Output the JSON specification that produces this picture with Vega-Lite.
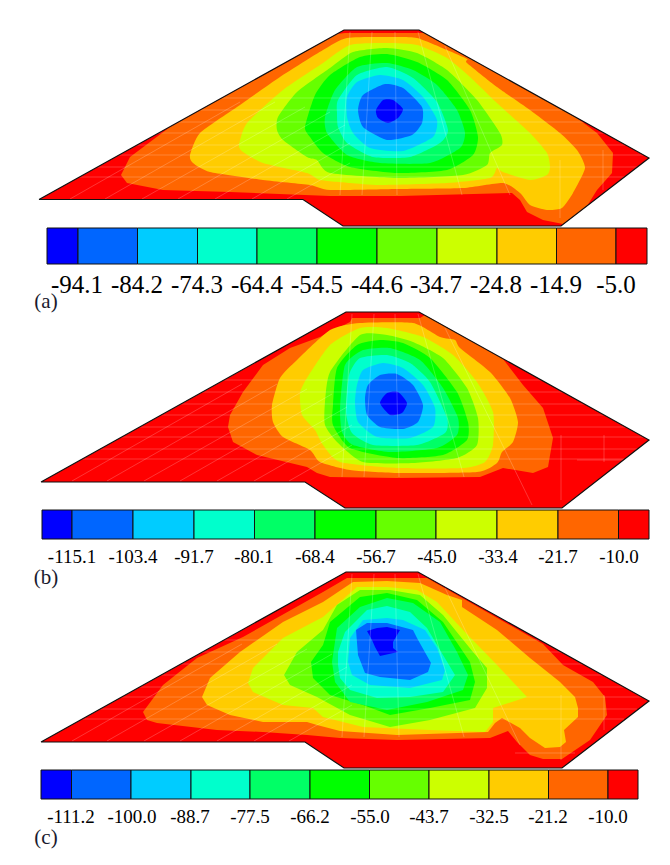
{
"$schema":"https://vega.github.io/schema/vega-lite/v6.json",
"width":670,"height":865,"padding":0,"autosize":"none","background":"white",
"config":{"view":{"stroke":null}},
"datasets":{
"bands":[
{"s":"a11","band":11,"x":39,"y":199.5},{"s":"a11","band":11,"x":344,"y":30},{"s":"a11","band":11,"x":419,"y":30},{"s":"a11","band":11,"x":649,"y":158},{"s":"a11","band":11,"x":561,"y":226},{"s":"a11","band":11,"x":343,"y":226},{"s":"a11","band":11,"x":303,"y":199.5},
{"s":"a10","band":10,"x":121,"y":175},{"s":"a10","band":10,"x":130,"y":157},{"s":"a10","band":10,"x":170,"y":127},{"s":"a10","band":10,"x":337,"y":34},{"s":"a10","band":10,"x":345,"y":33},{"s":"a10","band":10,"x":424,"y":33},{"s":"a10","band":10,"x":577,"y":118},{"s":"a10","band":10,"x":597,"y":133},{"s":"a10","band":10,"x":613,"y":153},{"s":"a10","band":10,"x":612,"y":173},{"s":"a10","band":10,"x":597,"y":190},{"s":"a10","band":10,"x":587,"y":206},{"s":"a10","band":10,"x":563,"y":224},{"s":"a10","band":10,"x":543,"y":220},{"s":"a10","band":10,"x":527,"y":212},{"s":"a10","band":10,"x":520,"y":200},{"s":"a10","band":10,"x":512,"y":193},{"s":"a10","band":10,"x":400,"y":196},{"s":"a10","band":10,"x":330,"y":196},{"s":"a10","band":10,"x":230,"y":192},{"s":"a10","band":10,"x":163,"y":190},{"s":"a10","band":10,"x":127,"y":183},
{"s":"a9","band":9,"x":190,"y":155},{"s":"a9","band":9,"x":193,"y":163},{"s":"a9","band":9,"x":210,"y":172},{"s":"a9","band":9,"x":263,"y":180},{"s":"a9","band":9,"x":310,"y":185},{"s":"a9","band":9,"x":330,"y":190},{"s":"a9","band":9,"x":397,"y":189},{"s":"a9","band":9,"x":463,"y":188},{"s":"a9","band":9,"x":503,"y":183},{"s":"a9","band":9,"x":520,"y":193},{"s":"a9","band":9,"x":530,"y":205},{"s":"a9","band":9,"x":547,"y":210},{"s":"a9","band":9,"x":562,"y":208},{"s":"a9","band":9,"x":573,"y":193},{"s":"a9","band":9,"x":585,"y":168},{"s":"a9","band":9,"x":577,"y":150},{"s":"a9","band":9,"x":560,"y":133},{"s":"a9","band":9,"x":530,"y":110},{"s":"a9","band":9,"x":497,"y":87},{"s":"a9","band":9,"x":467,"y":63},{"s":"a9","band":9,"x":467,"y":59},{"s":"a9","band":9,"x":447,"y":50},{"s":"a9","band":9,"x":417,"y":38},{"s":"a9","band":9,"x":390,"y":37},{"s":"a9","band":9,"x":347,"y":38},{"s":"a9","band":9,"x":323,"y":50},{"s":"a9","band":9,"x":280,"y":77},{"s":"a9","band":9,"x":237,"y":107},{"s":"a9","band":9,"x":200,"y":133},
{"s":"a8","band":8,"x":239,"y":145},{"s":"a8","band":8,"x":243,"y":152},{"s":"a8","band":8,"x":263,"y":163},{"s":"a8","band":8,"x":307,"y":173},{"s":"a8","band":8,"x":320,"y":180},{"s":"a8","band":8,"x":350,"y":183},{"s":"a8","band":8,"x":380,"y":185},{"s":"a8","band":8,"x":447,"y":183},{"s":"a8","band":8,"x":490,"y":178},{"s":"a8","band":8,"x":497,"y":168},{"s":"a8","band":8,"x":503,"y":172},{"s":"a8","band":8,"x":530,"y":180},{"s":"a8","band":8,"x":547,"y":175},{"s":"a8","band":8,"x":550,"y":167},{"s":"a8","band":8,"x":547,"y":153},{"s":"a8","band":8,"x":530,"y":133},{"s":"a8","band":8,"x":497,"y":103},{"s":"a8","band":8,"x":470,"y":77},{"s":"a8","band":8,"x":447,"y":58},{"s":"a8","band":8,"x":417,"y":45},{"s":"a8","band":8,"x":387,"y":43},{"s":"a8","band":8,"x":350,"y":45},{"s":"a8","band":8,"x":323,"y":63},{"s":"a8","band":8,"x":283,"y":90},{"s":"a8","band":8,"x":247,"y":123},
{"s":"a7","band":7,"x":277,"y":130},{"s":"a7","band":7,"x":283,"y":140},{"s":"a7","band":7,"x":307,"y":157},{"s":"a7","band":7,"x":317,"y":160},{"s":"a7","band":7,"x":330,"y":173},{"s":"a7","band":7,"x":397,"y":178},{"s":"a7","band":7,"x":463,"y":175},{"s":"a7","band":7,"x":487,"y":165},{"s":"a7","band":7,"x":490,"y":153},{"s":"a7","band":7,"x":502,"y":145},{"s":"a7","band":7,"x":500,"y":133},{"s":"a7","band":7,"x":477,"y":100},{"s":"a7","band":7,"x":447,"y":70},{"s":"a7","band":7,"x":417,"y":53},{"s":"a7","band":7,"x":387,"y":48},{"s":"a7","band":7,"x":353,"y":52},{"s":"a7","band":7,"x":330,"y":68},{"s":"a7","band":7,"x":297,"y":92},{"s":"a7","band":7,"x":278,"y":117},
{"s":"a6","band":6,"x":305,"y":127},{"s":"a6","band":6,"x":310,"y":137},{"s":"a6","band":6,"x":323,"y":153},{"s":"a6","band":6,"x":350,"y":167},{"s":"a6","band":6,"x":397,"y":173},{"s":"a6","band":6,"x":447,"y":170},{"s":"a6","band":6,"x":473,"y":155},{"s":"a6","band":6,"x":478,"y":137},{"s":"a6","band":6,"x":470,"y":110},{"s":"a6","band":6,"x":447,"y":80},{"s":"a6","band":6,"x":417,"y":62},{"s":"a6","band":6,"x":387,"y":54},{"s":"a6","band":6,"x":360,"y":57},{"s":"a6","band":6,"x":330,"y":75},{"s":"a6","band":6,"x":315,"y":95},
{"s":"a5","band":5,"x":325,"y":117},{"s":"a5","band":5,"x":327,"y":133},{"s":"a5","band":5,"x":347,"y":155},{"s":"a5","band":5,"x":380,"y":163},{"s":"a5","band":5,"x":430,"y":163},{"s":"a5","band":5,"x":460,"y":148},{"s":"a5","band":5,"x":465,"y":133},{"s":"a5","band":5,"x":457,"y":110},{"s":"a5","band":5,"x":437,"y":85},{"s":"a5","band":5,"x":413,"y":70},{"s":"a5","band":5,"x":387,"y":63},{"s":"a5","band":5,"x":357,"y":67},{"s":"a5","band":5,"x":335,"y":90},
{"s":"a4","band":4,"x":337,"y":113},{"s":"a4","band":4,"x":338,"y":127},{"s":"a4","band":4,"x":347,"y":143},{"s":"a4","band":4,"x":373,"y":157},{"s":"a4","band":4,"x":410,"y":157},{"s":"a4","band":4,"x":440,"y":143},{"s":"a4","band":4,"x":448,"y":130},{"s":"a4","band":4,"x":437,"y":102},{"s":"a4","band":4,"x":413,"y":78},{"s":"a4","band":4,"x":387,"y":67},{"s":"a4","band":4,"x":357,"y":75},{"s":"a4","band":4,"x":338,"y":100},
{"s":"a3","band":3,"x":347,"y":117},{"s":"a3","band":3,"x":353,"y":133},{"s":"a3","band":3,"x":370,"y":148},{"s":"a3","band":3,"x":403,"y":151},{"s":"a3","band":3,"x":433,"y":137},{"s":"a3","band":3,"x":437,"y":120},{"s":"a3","band":3,"x":423,"y":97},{"s":"a3","band":3,"x":403,"y":80},{"s":"a3","band":3,"x":380,"y":75},{"s":"a3","band":3,"x":357,"y":82},{"s":"a3","band":3,"x":347,"y":97},
{"s":"a2","band":2,"x":358,"y":110},{"s":"a2","band":2,"x":363,"y":127},{"s":"a2","band":2,"x":387,"y":140},{"s":"a2","band":2,"x":412,"y":135},{"s":"a2","band":2,"x":422,"y":123},{"s":"a2","band":2,"x":422,"y":107},{"s":"a2","band":2,"x":403,"y":88},{"s":"a2","band":2,"x":385,"y":84},{"s":"a2","band":2,"x":363,"y":95},
{"s":"a1","band":1,"x":376,"y":110},{"s":"a1","band":1,"x":383,"y":100},{"s":"a1","band":1,"x":393,"y":100},{"s":"a1","band":1,"x":403,"y":109},{"s":"a1","band":1,"x":398,"y":118},{"s":"a1","band":1,"x":388,"y":123},{"s":"a1","band":1,"x":378,"y":118},

{"s":"b11","band":11,"x":41,"y":482},{"s":"b11","band":11,"x":346,"y":312},{"s":"b11","band":11,"x":419,"y":312},{"s":"b11","band":11,"x":649,"y":440},{"s":"b11","band":11,"x":562,"y":508},{"s":"b11","band":11,"x":345,"y":508},{"s":"b11","band":11,"x":305,"y":482},
{"s":"b10","band":10,"x":228,"y":427},{"s":"b10","band":10,"x":230,"y":415},{"s":"b10","band":10,"x":243,"y":392},{"s":"b10","band":10,"x":263,"y":365},{"s":"b10","band":10,"x":290,"y":348},{"s":"b10","band":10,"x":320,"y":337},{"s":"b10","band":10,"x":350,"y":322},{"s":"b10","band":10,"x":352,"y":318},{"s":"b10","band":10,"x":420,"y":318},{"s":"b10","band":10,"x":425,"y":315},{"s":"b10","band":10,"x":503,"y":359},{"s":"b10","band":10,"x":523,"y":385},{"s":"b10","band":10,"x":543,"y":408},{"s":"b10","band":10,"x":553,"y":438},{"s":"b10","band":10,"x":548,"y":467},{"s":"b10","band":10,"x":533,"y":473},{"s":"b10","band":10,"x":503,"y":468},{"s":"b10","band":10,"x":480,"y":477},{"s":"b10","band":10,"x":397,"y":478},{"s":"b10","band":10,"x":330,"y":477},{"s":"b10","band":10,"x":317,"y":473},{"s":"b10","band":10,"x":307,"y":467},{"s":"b10","band":10,"x":257,"y":455},{"s":"b10","band":10,"x":233,"y":442},
{"s":"b9","band":9,"x":272,"y":405},{"s":"b9","band":9,"x":273,"y":422},{"s":"b9","band":9,"x":283,"y":437},{"s":"b9","band":9,"x":310,"y":450},{"s":"b9","band":9,"x":320,"y":462},{"s":"b9","band":9,"x":350,"y":470},{"s":"b9","band":9,"x":397,"y":473},{"s":"b9","band":9,"x":477,"y":472},{"s":"b9","band":9,"x":497,"y":463},{"s":"b9","band":9,"x":502,"y":452},{"s":"b9","band":9,"x":513,"y":442},{"s":"b9","band":9,"x":518,"y":422},{"s":"b9","band":9,"x":510,"y":398},{"s":"b9","band":9,"x":490,"y":372},{"s":"b9","band":9,"x":460,"y":348},{"s":"b9","band":9,"x":455,"y":340},{"s":"b9","band":9,"x":440,"y":337},{"s":"b9","band":9,"x":413,"y":323},{"s":"b9","band":9,"x":360,"y":323},{"s":"b9","band":9,"x":330,"y":330},{"s":"b9","band":9,"x":297,"y":360},{"s":"b9","band":9,"x":280,"y":378},
{"s":"b8","band":8,"x":300,"y":393},{"s":"b8","band":8,"x":302,"y":415},{"s":"b8","band":8,"x":315,"y":430},{"s":"b8","band":8,"x":323,"y":445},{"s":"b8","band":8,"x":340,"y":462},{"s":"b8","band":8,"x":397,"y":468},{"s":"b8","band":8,"x":463,"y":468},{"s":"b8","band":8,"x":485,"y":462},{"s":"b8","band":8,"x":493,"y":445},{"s":"b8","band":8,"x":493,"y":412},{"s":"b8","band":8,"x":477,"y":382},{"s":"b8","band":8,"x":453,"y":355},{"s":"b8","band":8,"x":423,"y":337},{"s":"b8","band":8,"x":387,"y":328},{"s":"b8","band":8,"x":360,"y":328},{"s":"b8","band":8,"x":330,"y":345},{"s":"b8","band":8,"x":307,"y":378},
{"s":"b7","band":7,"x":325,"y":402},{"s":"b7","band":7,"x":325,"y":425},{"s":"b7","band":7,"x":337,"y":442},{"s":"b7","band":7,"x":363,"y":462},{"s":"b7","band":7,"x":413,"y":463},{"s":"b7","band":7,"x":457,"y":458},{"s":"b7","band":7,"x":477,"y":445},{"s":"b7","band":7,"x":478,"y":418},{"s":"b7","band":7,"x":467,"y":388},{"s":"b7","band":7,"x":443,"y":358},{"s":"b7","band":7,"x":413,"y":342},{"s":"b7","band":7,"x":387,"y":335},{"s":"b7","band":7,"x":360,"y":335},{"s":"b7","band":7,"x":330,"y":372},
{"s":"b6","band":6,"x":333,"y":405},{"s":"b6","band":6,"x":333,"y":425},{"s":"b6","band":6,"x":350,"y":448},{"s":"b6","band":6,"x":397,"y":458},{"s":"b6","band":6,"x":443,"y":455},{"s":"b6","band":6,"x":467,"y":440},{"s":"b6","band":6,"x":468,"y":422},{"s":"b6","band":6,"x":457,"y":392},{"s":"b6","band":6,"x":430,"y":358},{"s":"b6","band":6,"x":403,"y":343},{"s":"b6","band":6,"x":380,"y":340},{"s":"b6","band":6,"x":357,"y":345},{"s":"b6","band":6,"x":337,"y":368},
{"s":"b5","band":5,"x":340,"y":408},{"s":"b5","band":5,"x":342,"y":432},{"s":"b5","band":5,"x":353,"y":445},{"s":"b5","band":5,"x":390,"y":452},{"s":"b5","band":5,"x":437,"y":448},{"s":"b5","band":5,"x":457,"y":435},{"s":"b5","band":5,"x":458,"y":418},{"s":"b5","band":5,"x":443,"y":388},{"s":"b5","band":5,"x":420,"y":360},{"s":"b5","band":5,"x":390,"y":348},{"s":"b5","band":5,"x":363,"y":350},{"s":"b5","band":5,"x":345,"y":365},
{"s":"b4","band":4,"x":346,"y":412},{"s":"b4","band":4,"x":352,"y":433},{"s":"b4","band":4,"x":373,"y":445},{"s":"b4","band":4,"x":417,"y":445},{"s":"b4","band":4,"x":445,"y":433},{"s":"b4","band":4,"x":447,"y":418},{"s":"b4","band":4,"x":430,"y":382},{"s":"b4","band":4,"x":410,"y":363},{"s":"b4","band":4,"x":387,"y":355},{"s":"b4","band":4,"x":360,"y":358},{"s":"b4","band":4,"x":349,"y":375},
{"s":"b3","band":3,"x":355,"y":402},{"s":"b3","band":3,"x":358,"y":422},{"s":"b3","band":3,"x":377,"y":437},{"s":"b3","band":3,"x":410,"y":438},{"s":"b3","band":3,"x":433,"y":427},{"s":"b3","band":3,"x":435,"y":408},{"s":"b3","band":3,"x":423,"y":385},{"s":"b3","band":3,"x":403,"y":368},{"s":"b3","band":3,"x":383,"y":363},{"s":"b3","band":3,"x":363,"y":370},{"s":"b3","band":3,"x":357,"y":385},
{"s":"b2","band":2,"x":365,"y":398},{"s":"b2","band":2,"x":367,"y":415},{"s":"b2","band":2,"x":380,"y":427},{"s":"b2","band":2,"x":403,"y":429},{"s":"b2","band":2,"x":418,"y":422},{"s":"b2","band":2,"x":423,"y":405},{"s":"b2","band":2,"x":413,"y":385},{"s":"b2","band":2,"x":397,"y":374},{"s":"b2","band":2,"x":380,"y":375},{"s":"b2","band":2,"x":368,"y":385},
{"s":"b1","band":1,"x":380,"y":403},{"s":"b1","band":1,"x":387,"y":393},{"s":"b1","band":1,"x":398,"y":392},{"s":"b1","band":1,"x":407,"y":403},{"s":"b1","band":1,"x":402,"y":413},{"s":"b1","band":1,"x":390,"y":415},

{"s":"c11","band":11,"x":41,"y":742},{"s":"c11","band":11,"x":346,"y":572},{"s":"c11","band":11,"x":418,"y":572},{"s":"c11","band":11,"x":649,"y":701},{"s":"c11","band":11,"x":562,"y":768},{"s":"c11","band":11,"x":344,"y":768},{"s":"c11","band":11,"x":305,"y":742},
{"s":"c10","band":10,"x":143,"y":712},{"s":"c10","band":10,"x":147,"y":720},{"s":"c10","band":10,"x":157,"y":723},{"s":"c10","band":10,"x":217,"y":730},{"s":"c10","band":10,"x":263,"y":732},{"s":"c10","band":10,"x":307,"y":735},{"s":"c10","band":10,"x":340,"y":738},{"s":"c10","band":10,"x":397,"y":740},{"s":"c10","band":10,"x":490,"y":738},{"s":"c10","band":10,"x":508,"y":731},{"s":"c10","band":10,"x":517,"y":742},{"s":"c10","band":10,"x":530,"y":755},{"s":"c10","band":10,"x":543,"y":759},{"s":"c10","band":10,"x":562,"y":759},{"s":"c10","band":10,"x":590,"y":740},{"s":"c10","band":10,"x":607,"y":715},{"s":"c10","band":10,"x":605,"y":697},{"s":"c10","band":10,"x":593,"y":682},{"s":"c10","band":10,"x":563,"y":665},{"s":"c10","band":10,"x":543,"y":644},{"s":"c10","band":10,"x":427,"y":578},{"s":"c10","band":10,"x":418,"y":578},{"s":"c10","band":10,"x":347,"y":578},{"s":"c10","band":10,"x":323,"y":592},{"s":"c10","band":10,"x":243,"y":637},{"s":"c10","band":10,"x":197,"y":658},{"s":"c10","band":10,"x":163,"y":685},
{"s":"c9","band":9,"x":202,"y":697},{"s":"c9","band":9,"x":207,"y":705},{"s":"c9","band":9,"x":230,"y":715},{"s":"c9","band":9,"x":263,"y":722},{"s":"c9","band":9,"x":307,"y":722},{"s":"c9","band":9,"x":317,"y":725},{"s":"c9","band":9,"x":340,"y":731},{"s":"c9","band":9,"x":397,"y":735},{"s":"c9","band":9,"x":488,"y":732},{"s":"c9","band":9,"x":495,"y":723},{"s":"c9","band":9,"x":502,"y":718},{"s":"c9","band":9,"x":520,"y":728},{"s":"c9","band":9,"x":530,"y":738},{"s":"c9","band":9,"x":545,"y":748},{"s":"c9","band":9,"x":560,"y":747},{"s":"c9","band":9,"x":566,"y":742},{"s":"c9","band":9,"x":564,"y":730},{"s":"c9","band":9,"x":578,"y":717},{"s":"c9","band":9,"x":578,"y":708},{"s":"c9","band":9,"x":575,"y":697},{"s":"c9","band":9,"x":560,"y":682},{"s":"c9","band":9,"x":530,"y":658},{"s":"c9","band":9,"x":497,"y":630},{"s":"c9","band":9,"x":462,"y":607},{"s":"c9","band":9,"x":462,"y":600},{"s":"c9","band":9,"x":447,"y":595},{"s":"c9","band":9,"x":420,"y":583},{"s":"c9","band":9,"x":387,"y":581},{"s":"c9","band":9,"x":353,"y":582},{"s":"c9","band":9,"x":323,"y":602},{"s":"c9","band":9,"x":283,"y":622},{"s":"c9","band":9,"x":240,"y":652},{"s":"c9","band":9,"x":210,"y":678},
{"s":"c8","band":8,"x":248,"y":683},{"s":"c8","band":8,"x":253,"y":692},{"s":"c8","band":8,"x":283,"y":705},{"s":"c8","band":8,"x":313,"y":708},{"s":"c8","band":8,"x":323,"y":717},{"s":"c8","band":8,"x":363,"y":727},{"s":"c8","band":8,"x":430,"y":730},{"s":"c8","band":8,"x":485,"y":732},{"s":"c8","band":8,"x":493,"y":722},{"s":"c8","band":8,"x":493,"y":708},{"s":"c8","band":8,"x":527,"y":697},{"s":"c8","band":8,"x":497,"y":665},{"s":"c8","band":8,"x":463,"y":630},{"s":"c8","band":8,"x":437,"y":602},{"s":"c8","band":8,"x":417,"y":590},{"s":"c8","band":8,"x":387,"y":587},{"s":"c8","band":8,"x":357,"y":587},{"s":"c8","band":8,"x":323,"y":617},{"s":"c8","band":8,"x":283,"y":638},{"s":"c8","band":8,"x":253,"y":668},
{"s":"c7","band":7,"x":284,"y":675},{"s":"c7","band":7,"x":290,"y":685},{"s":"c7","band":7,"x":317,"y":697},{"s":"c7","band":7,"x":350,"y":715},{"s":"c7","band":7,"x":390,"y":727},{"s":"c7","band":7,"x":430,"y":720},{"s":"c7","band":7,"x":475,"y":708},{"s":"c7","band":7,"x":487,"y":688},{"s":"c7","band":7,"x":487,"y":668},{"s":"c7","band":7,"x":473,"y":652},{"s":"c7","band":7,"x":443,"y":615},{"s":"c7","band":7,"x":420,"y":595},{"s":"c7","band":7,"x":390,"y":590},{"s":"c7","band":7,"x":360,"y":590},{"s":"c7","band":7,"x":337,"y":605},{"s":"c7","band":7,"x":323,"y":630},{"s":"c7","band":7,"x":297,"y":652},
{"s":"c6","band":6,"x":311,"y":662},{"s":"c6","band":6,"x":313,"y":678},{"s":"c6","band":6,"x":330,"y":695},{"s":"c6","band":6,"x":363,"y":705},{"s":"c6","band":6,"x":390,"y":715},{"s":"c6","band":6,"x":430,"y":708},{"s":"c6","band":6,"x":470,"y":700},{"s":"c6","band":6,"x":475,"y":682},{"s":"c6","band":6,"x":470,"y":662},{"s":"c6","band":6,"x":443,"y":622},{"s":"c6","band":6,"x":417,"y":600},{"s":"c6","band":6,"x":387,"y":593},{"s":"c6","band":6,"x":360,"y":597},{"s":"c6","band":6,"x":330,"y":622},{"s":"c6","band":6,"x":323,"y":645},
{"s":"c5","band":5,"x":332,"y":662},{"s":"c5","band":5,"x":335,"y":682},{"s":"c5","band":5,"x":350,"y":702},{"s":"c5","band":5,"x":387,"y":710},{"s":"c5","band":5,"x":427,"y":702},{"s":"c5","band":5,"x":463,"y":690},{"s":"c5","band":5,"x":468,"y":675},{"s":"c5","band":5,"x":457,"y":652},{"s":"c5","band":5,"x":440,"y":622},{"s":"c5","band":5,"x":413,"y":603},{"s":"c5","band":5,"x":387,"y":598},{"s":"c5","band":5,"x":360,"y":607},{"s":"c5","band":5,"x":337,"y":628},
{"s":"c4","band":4,"x":338,"y":665},{"s":"c4","band":4,"x":340,"y":678},{"s":"c4","band":4,"x":350,"y":690},{"s":"c4","band":4,"x":377,"y":698},{"s":"c4","band":4,"x":410,"y":697},{"s":"c4","band":4,"x":443,"y":692},{"s":"c4","band":4,"x":455,"y":675},{"s":"c4","band":4,"x":440,"y":650},{"s":"c4","band":4,"x":427,"y":628},{"s":"c4","band":4,"x":410,"y":612},{"s":"c4","band":4,"x":387,"y":606},{"s":"c4","band":4,"x":367,"y":610},{"s":"c4","band":4,"x":345,"y":632},{"s":"c4","band":4,"x":338,"y":652},
{"s":"c3","band":3,"x":348,"y":662},{"s":"c3","band":3,"x":352,"y":675},{"s":"c3","band":3,"x":370,"y":685},{"s":"c3","band":3,"x":410,"y":688},{"s":"c3","band":3,"x":442,"y":680},{"s":"c3","band":3,"x":445,"y":670},{"s":"c3","band":3,"x":437,"y":648},{"s":"c3","band":3,"x":425,"y":630},{"s":"c3","band":3,"x":403,"y":620},{"s":"c3","band":3,"x":387,"y":618},{"s":"c3","band":3,"x":363,"y":620},{"s":"c3","band":3,"x":350,"y":638},
{"s":"c2","band":2,"x":356,"y":630},{"s":"c2","band":2,"x":358,"y":655},{"s":"c2","band":2,"x":365,"y":673},{"s":"c2","band":2,"x":380,"y":677},{"s":"c2","band":2,"x":410,"y":680},{"s":"c2","band":2,"x":428,"y":672},{"s":"c2","band":2,"x":431,"y":663},{"s":"c2","band":2,"x":417,"y":638},{"s":"c2","band":2,"x":413,"y":630},{"s":"c2","band":2,"x":387,"y":623},{"s":"c2","band":2,"x":367,"y":623},
{"s":"c1","band":1,"x":367,"y":631},{"s":"c1","band":1,"x":377,"y":628},{"s":"c1","band":1,"x":387,"y":627},{"s":"c1","band":1,"x":400,"y":630},{"s":"c1","band":1,"x":393,"y":642},{"s":"c1","band":1,"x":393,"y":648},{"s":"c1","band":1,"x":398,"y":652},{"s":"c1","band":1,"x":380,"y":656},{"s":"c1","band":1,"x":375,"y":647},{"s":"c1","band":1,"x":372,"y":640}
],
"mesh":[
{"l":"ah1","x":222,"y":98},{"l":"ah1","x":541,"y":98},{"l":"ah2","x":200,"y":110},{"l":"ah2","x":563,"y":110},{"l":"ah3","x":178,"y":122},{"l":"ah3","x":584,"y":122},{"l":"ah4","x":159,"y":133},{"l":"ah4","x":604,"y":133},{"l":"ah5","x":137,"y":145},{"l":"ah5","x":625,"y":145},{"l":"ah6","x":119,"y":155},{"l":"ah6","x":643,"y":155},{"l":"ah7","x":98,"y":167},{"l":"ah7","x":637,"y":167},{"l":"ah8","x":80,"y":177},{"l":"ah8","x":624,"y":177},
{"l":"ad1","x":70,"y":199},{"l":"ad1","x":240,"y":102},{"l":"ad2","x":105,"y":199},{"l":"ad2","x":275,"y":102},{"l":"ad3","x":142,"y":199},{"l":"ad3","x":305,"y":107},{"l":"ad4","x":178,"y":199},{"l":"ad4","x":330,"y":112},{"l":"ad5","x":215,"y":199},{"l":"ad5","x":345,"y":125},{"l":"ad6","x":252,"y":199},{"l":"ad6","x":350,"y":143},{"l":"ad7","x":287,"y":199},{"l":"ad7","x":350,"y":163},
{"l":"af1","x":350,"y":32},{"l":"af1","x":340,"y":195},{"l":"af2","x":372,"y":32},{"l":"af2","x":362,"y":195},{"l":"af3","x":395,"y":32},{"l":"af3","x":397,"y":195},{"l":"af4","x":418,"y":32},{"l":"af4","x":462,"y":195},{"l":"af5","x":445,"y":46},{"l":"af5","x":510,"y":195},{"l":"af6","x":560,"y":160},{"l":"af6","x":560,"y":218},{"l":"af7","x":603,"y":150},{"l":"af7","x":603,"y":190},
{"l":"bh1","x":224,"y":380},{"l":"bh1","x":541,"y":380},{"l":"bh2","x":202,"y":392},{"l":"bh2","x":563,"y":392},{"l":"bh3","x":180,"y":404},{"l":"bh3","x":584,"y":404},{"l":"bh4","x":161,"y":415},{"l":"bh4","x":604,"y":415},{"l":"bh5","x":139,"y":427},{"l":"bh5","x":625,"y":427},{"l":"bh6","x":121,"y":437},{"l":"bh6","x":643,"y":437},{"l":"bh7","x":100,"y":449},{"l":"bh7","x":637,"y":449},{"l":"bh8","x":82,"y":459},{"l":"bh8","x":624,"y":459},
{"l":"bd1","x":72,"y":481},{"l":"bd1","x":242,"y":384},{"l":"bd2","x":107,"y":481},{"l":"bd2","x":277,"y":384},{"l":"bd3","x":144,"y":481},{"l":"bd3","x":307,"y":389},{"l":"bd4","x":180,"y":481},{"l":"bd4","x":332,"y":394},{"l":"bd5","x":217,"y":481},{"l":"bd5","x":347,"y":407},{"l":"bd6","x":254,"y":481},{"l":"bd6","x":352,"y":425},{"l":"bd7","x":289,"y":481},{"l":"bd7","x":352,"y":445},
{"l":"bf1","x":352,"y":314},{"l":"bf1","x":342,"y":477},{"l":"bf2","x":374,"y":314},{"l":"bf2","x":364,"y":477},{"l":"bf3","x":395,"y":314},{"l":"bf3","x":399,"y":477},{"l":"bf4","x":418,"y":314},{"l":"bf4","x":464,"y":477},{"l":"bf5","x":445,"y":328},{"l":"bf5","x":532,"y":505},{"l":"bf6","x":561,"y":435},{"l":"bf6","x":561,"y":500},{"l":"bf7","x":604,"y":435},{"l":"bf7","x":604,"y":462},{"l":"bf8","x":577,"y":460},{"l":"bf8","x":625,"y":460},
{"l":"ch1","x":224,"y":640},{"l":"ch1","x":541,"y":640},{"l":"ch2","x":202,"y":652},{"l":"ch2","x":563,"y":652},{"l":"ch3","x":180,"y":664},{"l":"ch3","x":584,"y":664},{"l":"ch4","x":161,"y":675},{"l":"ch4","x":604,"y":675},{"l":"ch5","x":139,"y":687},{"l":"ch5","x":625,"y":687},{"l":"ch6","x":121,"y":697},{"l":"ch6","x":643,"y":697},{"l":"ch7","x":100,"y":709},{"l":"ch7","x":637,"y":709},{"l":"ch8","x":82,"y":719},{"l":"ch8","x":624,"y":719},
{"l":"cd1","x":72,"y":741},{"l":"cd1","x":242,"y":644},{"l":"cd2","x":107,"y":741},{"l":"cd2","x":277,"y":644},{"l":"cd3","x":144,"y":741},{"l":"cd3","x":307,"y":649},{"l":"cd4","x":180,"y":741},{"l":"cd4","x":332,"y":654},{"l":"cd5","x":217,"y":741},{"l":"cd5","x":347,"y":667},{"l":"cd6","x":254,"y":741},{"l":"cd6","x":352,"y":685},{"l":"cd7","x":289,"y":741},{"l":"cd7","x":352,"y":705},
{"l":"cf1","x":352,"y":574},{"l":"cf1","x":342,"y":737},{"l":"cf2","x":374,"y":574},{"l":"cf2","x":364,"y":737},{"l":"cf3","x":395,"y":574},{"l":"cf3","x":399,"y":737},{"l":"cf4","x":418,"y":574},{"l":"cf4","x":464,"y":737},{"l":"cf5","x":445,"y":588},{"l":"cf5","x":520,"y":745},{"l":"cf6","x":561,"y":695},{"l":"cf6","x":561,"y":760},{"l":"cf7","x":604,"y":695},{"l":"cf7","x":604,"y":730},{"l":"cf8","x":515,"y":753},{"l":"cf8","x":575,"y":753}
],
"outline":[
{"l":"a","x":39,"y":199.5},{"l":"a","x":344,"y":30},{"l":"a","x":419,"y":30},{"l":"a","x":649,"y":158},{"l":"a","x":561,"y":226},{"l":"a","x":343,"y":226},{"l":"a","x":303,"y":199.5},{"l":"a","x":39,"y":199.5},
{"l":"b","x":41,"y":482},{"l":"b","x":346,"y":312},{"l":"b","x":419,"y":312},{"l":"b","x":649,"y":440},{"l":"b","x":562,"y":508},{"l":"b","x":345,"y":508},{"l":"b","x":305,"y":482},{"l":"b","x":41,"y":482},
{"l":"c","x":41,"y":742},{"l":"c","x":346,"y":572},{"l":"c","x":418,"y":572},{"l":"c","x":649,"y":701},{"l":"c","x":562,"y":768},{"l":"c","x":344,"y":768},{"l":"c","x":305,"y":742},{"l":"c","x":41,"y":742}
],
"bars":[
{"band":1,"x":47,"x2":78,"y":228,"y2":264},{"band":2,"x":78,"x2":137.5,"y":228,"y2":264},{"band":3,"x":137.5,"x2":197.5,"y":228,"y2":264},{"band":4,"x":197.5,"x2":257,"y":228,"y2":264},{"band":5,"x":257,"x2":317,"y":228,"y2":264},{"band":6,"x":317,"x2":377,"y":228,"y2":264},{"band":7,"x":377,"x2":437,"y":228,"y2":264},{"band":8,"x":437,"x2":497,"y":228,"y2":264},{"band":9,"x":497,"x2":556.5,"y":228,"y2":264},{"band":10,"x":556.5,"x2":616,"y":228,"y2":264},{"band":11,"x":616,"x2":647,"y":228,"y2":264},
{"band":1,"x":42,"x2":72,"y":510,"y2":539},{"band":2,"x":72,"x2":133,"y":510,"y2":539},{"band":3,"x":133,"x2":194,"y":510,"y2":539},{"band":4,"x":194,"x2":254.5,"y":510,"y2":539},{"band":5,"x":254.5,"x2":315,"y":510,"y2":539},{"band":6,"x":315,"x2":376,"y":510,"y2":539},{"band":7,"x":376,"x2":436,"y":510,"y2":539},{"band":8,"x":436,"x2":497,"y":510,"y2":539},{"band":9,"x":497,"x2":558,"y":510,"y2":539},{"band":10,"x":558,"x2":618.5,"y":510,"y2":539},{"band":11,"x":618.5,"x2":649,"y":510,"y2":539},
{"band":1,"x":41,"x2":71.5,"y":770,"y2":799},{"band":2,"x":71.5,"x2":131,"y":770,"y2":799},{"band":3,"x":131,"x2":191,"y":770,"y2":799},{"band":4,"x":191,"x2":250,"y":770,"y2":799},{"band":5,"x":250,"x2":310,"y":770,"y2":799},{"band":6,"x":310,"x2":369.5,"y":770,"y2":799},{"band":7,"x":369.5,"x2":429,"y":770,"y2":799},{"band":8,"x":429,"x2":489,"y":770,"y2":799},{"band":9,"x":489,"x2":548.5,"y":770,"y2":799},{"band":10,"x":548.5,"x2":608,"y":770,"y2":799},{"band":11,"x":608,"x2":638,"y":770,"y2":799}
],
"labelsA":[
{"t":"-94.1","x":77,"y":285},{"t":"-84.2","x":137,"y":285},{"t":"-74.3","x":197,"y":285},{"t":"-64.4","x":257,"y":285},{"t":"-54.5","x":317,"y":285},{"t":"-44.6","x":377,"y":285},{"t":"-34.7","x":436,"y":285},{"t":"-24.8","x":496,"y":285},{"t":"-14.9","x":556,"y":285},{"t":"-5.0","x":616,"y":285}
],
"labelsBC":[
{"t":"-115.1","x":72,"y":557},{"t":"-103.4","x":133,"y":557},{"t":"-91.7","x":194,"y":557},{"t":"-80.1","x":254,"y":557},{"t":"-68.4","x":315,"y":557},{"t":"-56.7","x":376,"y":557},{"t":"-45.0","x":437,"y":557},{"t":"-33.4","x":498,"y":557},{"t":"-21.7","x":558,"y":557},{"t":"-10.0","x":619,"y":557},
{"t":"-111.2","x":71,"y":817},{"t":"-100.0","x":132,"y":817},{"t":"-88.7","x":190,"y":817},{"t":"-77.5","x":250,"y":817},{"t":"-66.2","x":310,"y":817},{"t":"-55.0","x":370,"y":817},{"t":"-43.7","x":429,"y":817},{"t":"-32.5","x":489,"y":817},{"t":"-21.2","x":548,"y":817},{"t":"-10.0","x":608,"y":817}
],
"tags":[{"t":"(a)","x":46,"y":302},{"t":"(b)","x":46,"y":578},{"t":"(c)","x":46,"y":838}]
},
"encoding":{
"x":{"field":"x","type":"quantitative","scale":{"domain":[0,670],"nice":false,"zero":false},"axis":null},
"y":{"field":"y","type":"quantitative","scale":{"domain":[865,0],"nice":false,"zero":false},"axis":null}
},
"layer":[
{"data":{"name":"bands"},"transform":[{"filter":"datum.band>=10 || datum.s[0]=='c'"}],"mark":{"type":"line","filled":true,"strokeWidth":0},
"encoding":{"detail":{"field":"s"},"order":{"value":null},"color":{"field":"band","type":"ordinal","legend":null,"scale":{"domain":[1,2,3,4,5,6,7,8,9,10,11],"range":["#0000ff","#0066ff","#00ccff","#00ffcc","#00ff66","#00ff00","#66ff00","#ccff00","#ffcc00","#ff6600","#ff0000"]}}}},
{"data":{"name":"bands"},"transform":[{"filter":"datum.band<10 && datum.s[0]!='c'"}],"mark":{"type":"line","filled":true,"strokeWidth":0,"interpolate":"cardinal-closed","tension":0.4},
"encoding":{"detail":{"field":"s"},"order":{"value":null},"color":{"field":"band","type":"ordinal","legend":null}}},
{"data":{"name":"mesh"},"mark":{"type":"line","color":"white","strokeWidth":0.7,"opacity":0.3},"encoding":{"detail":{"field":"l"},"order":{"value":null}}},
{"data":{"name":"outline"},"mark":{"type":"line","color":"#111111","strokeWidth":1.2},"encoding":{"detail":{"field":"l"},"order":{"value":null}}},
{"data":{"name":"bars"},"mark":{"type":"rect","stroke":"#111111","strokeWidth":1},"encoding":{"x2":{"field":"x2"},"y2":{"field":"y2"},"color":{"field":"band","type":"ordinal","legend":null}}},
{"data":{"name":"labelsA"},"mark":{"type":"text","font":"Liberation Serif","fontSize":25,"align":"center","baseline":"middle","color":"black"},"encoding":{"text":{"field":"t"}}},
{"data":{"name":"labelsBC"},"mark":{"type":"text","font":"Liberation Serif","fontSize":19,"align":"center","baseline":"middle","color":"black"},"encoding":{"text":{"field":"t"}}},
{"data":{"name":"tags"},"mark":{"type":"text","font":"Liberation Serif","fontSize":21,"align":"center","baseline":"middle","color":"#1a1a2e"},"encoding":{"text":{"field":"t"}}}
]
}
